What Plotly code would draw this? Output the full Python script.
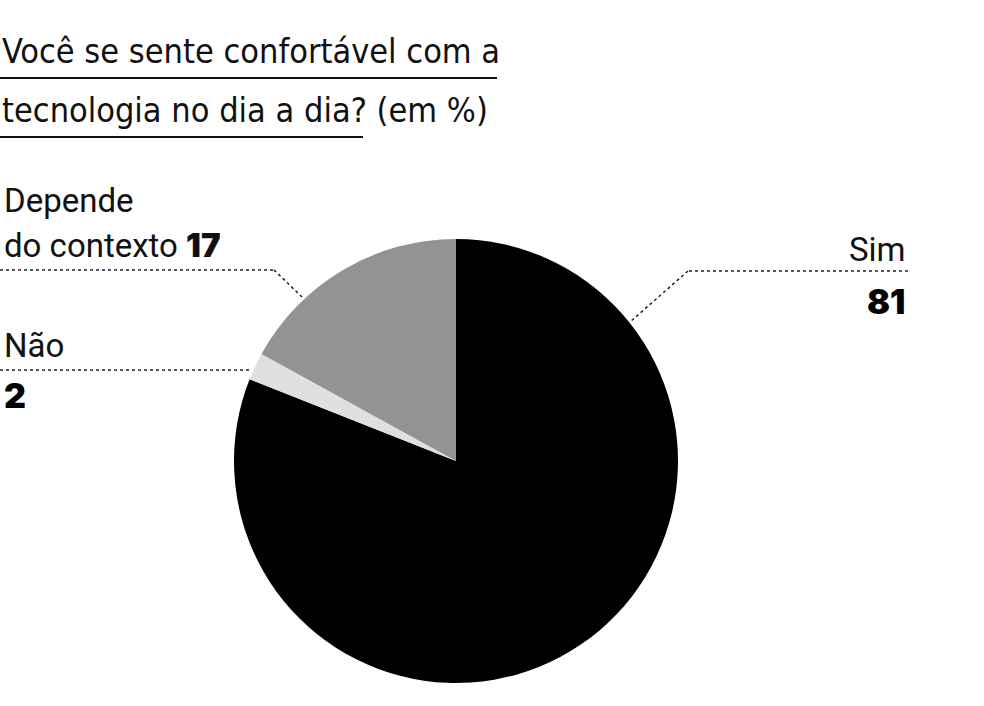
import plotly.graph_objects as go

categories = ["Sim", "Não", "Depende do contexto"]
values = [81, 2, 17]
colors = ["#000000", "#e0e0e0", "#939393"]

title_line1 = "Você se sente confortável com a"
title_line2a = "tecnologia no dia a dia?"
title_line2b = " (em %)"

W, H = 984, 706

def px(x):
    return x / W

def py(y):
    return 1 - y / H

fig = go.Figure()
fig.add_trace(go.Pie(
    labels=categories,
    values=values,
    marker=dict(colors=colors, line=dict(width=0)),
    sort=False,
    direction="clockwise",
    rotation=0,
    textinfo="none",
    hoverinfo="label+value",
    showlegend=False,
    domain=dict(x=[234 / W, 678 / W], y=[1 - 683 / H, 1 - 239 / H]),
))

title_font = dict(family="DejaVu Sans Condensed, Liberation Sans Narrow, Roboto", size=34, color="#111111")
label_font = dict(family="Roboto", size=33, color="#111111")
num_font = dict(family="Inter, Lato, Roboto", size=34, color="#000000", weight=900)

ann = []
ann.append(dict(text=title_line1, x=px(0), y=py(51), xanchor="left", yanchor="middle", font=title_font))
ann.append(dict(text=title_line2a + title_line2b, x=px(0), y=py(110), xanchor="left", yanchor="middle", font=title_font))

ann.append(dict(text="Depende", x=px(2), y=py(200), xanchor="left", yanchor="middle", font=label_font))
ann.append(dict(text="do contexto <span style='font-family:Inter;font-weight:900'>%d</span>" % values[2],
                x=px(2), y=py(245), xanchor="left", yanchor="middle", font=label_font))
ann.append(dict(text=categories[1], x=px(2), y=py(345), xanchor="left", yanchor="middle", font=label_font))
ann.append(dict(text=str(values[1]), x=px(2), y=py(395), xanchor="left", yanchor="middle", font=num_font))
ann.append(dict(text=categories[0], x=px(908), y=py(250), xanchor="right", yanchor="middle", font=label_font))
ann.append(dict(text=str(values[0]), x=px(907), y=py(301), xanchor="right", yanchor="middle", font=num_font))

for a in ann:
    a.update(xref="paper", yref="paper", showarrow=False)

dot = dict(color="#222222", width=1.5, dash="dot")
shapes = []
def seg(x0, y0, x1, y1, line):
    shapes.append(dict(type="line", xref="paper", yref="paper",
                       x0=px(x0), y0=py(y0), x1=px(x1), y1=py(y1), line=line))

seg(0, 270, 274, 270, dot)
seg(274, 270, 302, 297, dot)
seg(0, 370, 250, 370, dot)
seg(908, 271, 688, 271, dot)
seg(688, 271, 630, 322, dot)

under = dict(color="#111111", width=2)
seg(0, 78, 497, 78, under)
seg(0, 137, 363, 137, under)

fig.update_layout(
    width=W, height=H,
    margin=dict(l=0, r=0, t=0, b=0),
    paper_bgcolor="white",
    plot_bgcolor="white",
    annotations=ann,
    shapes=shapes,
)

fig.write_html("out.html", config={"displayModeBar": False},
               post_script="document.body.style.margin='0px';")
